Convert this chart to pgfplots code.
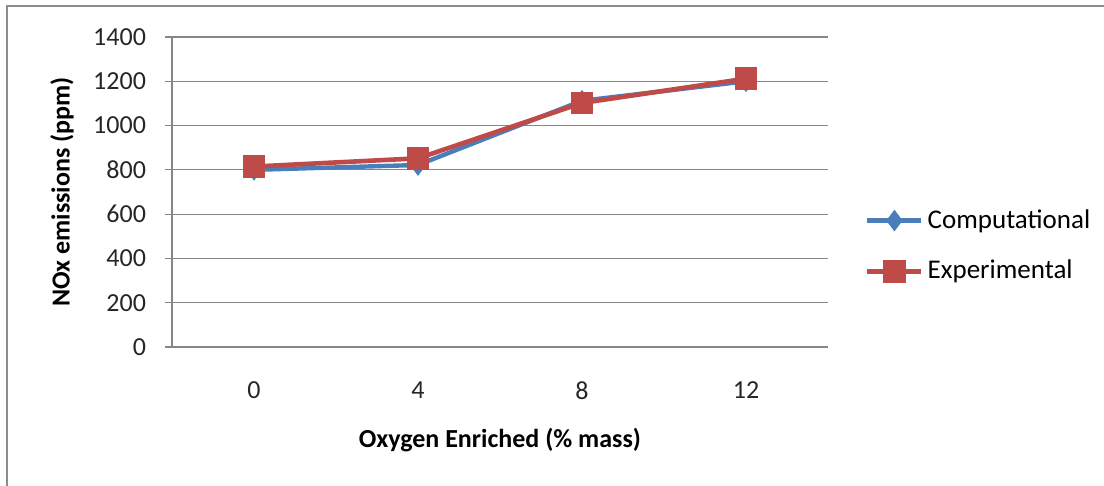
\documentclass[border=0pt]{standalone}
\usepackage{fontspec}
\setmainfont{Carlito}
\usepackage{pgfplots}
\pgfplotsset{compat=1.18}
\definecolor{cblue}{HTML}{4A7EBB}
\definecolor{cred}{HTML}{BE4B48}
\definecolor{cgrid}{HTML}{868686}
\definecolor{cframe}{HTML}{8C8C8C}
\begin{document}
\fontsize{13pt}{15pt}\selectfont
\begin{tikzpicture}
\path[use as bounding box] (0pt,0pt) rectangle (552pt,243pt);
\draw[cframe, line width=1pt] (3.5pt,0pt) -- (3.5pt,240pt) -- (552pt,240pt);
\begin{axis}[
  at={(86pt,69.5pt)}, anchor=south west,
  scale only axis, width=328pt, height=155pt,
  xmin=-0.5, xmax=3.5, ymin=0, ymax=1400,
  ytick={0,200,...,1400},
  xtick={0,1,2,3}, xticklabels={0,4,8,12},
  major x tick style={draw=none},
  extra x ticks={-0.5,0.5,1.5,2.5,3.5}, extra x tick labels={},
  extra x tick style={major tick length=4pt, tick align=outside, grid=none, tick style={cgrid}},
  tick align=outside, major tick length=3.5pt,
  ymajorgrids, grid style={cgrid, line width=0.6pt},
  axis x line*=bottom, axis y line*=left,
  axis line style={cgrid, line width=0.6pt},
  tick style={cgrid, line width=0.6pt},
  every tick label/.style={font=\fontsize{13pt}{15pt}\selectfont, text=black!85},
  /pgf/number format/assume math mode=true,
  /pgf/number format/1000 sep={},
  xticklabel style={yshift=-9.5pt},
  yticklabel style={xshift=-5pt},
  clip=false,
  legend style={at={(1.056,0.326)}, anchor=west, draw=none, fill=none,
    row sep=10pt, font=\fontsize{13.5pt}{15pt}\selectfont, inner sep=0pt,
    /tikz/every even column/.append style={column sep=1pt}},
  legend cell align=left,
  legend image code/.code={
    \draw[#1, mark repeat=2, mark phase=2] plot coordinates {(0pt,0pt) (13.5pt,0pt) (27pt,0pt)};},
]
\addplot[cblue, line width=2.2pt, mark=diamond*, mark size=3.6pt, mark options={solid}] coordinates {(0,800) (1,822) (2,1112) (3,1200)};
\addlegendentry{Computational}
\addplot[cred, line width=2.3pt, mark=square*, mark size=4.5pt] coordinates {(0,815) (1,852) (2,1102) (3,1212)};
\addlegendentry{Experimental}
\end{axis}
\node[font=\bfseries\fontsize{13pt}{15pt}\selectfont, rotate=90] at (31pt,147pt) {NOx emissions (ppm)};
\node[font=\bfseries\fontsize{13pt}{15pt}\selectfont] at (250pt,23pt) {Oxygen Enriched (\% mass)};
\end{tikzpicture}
\end{document}
